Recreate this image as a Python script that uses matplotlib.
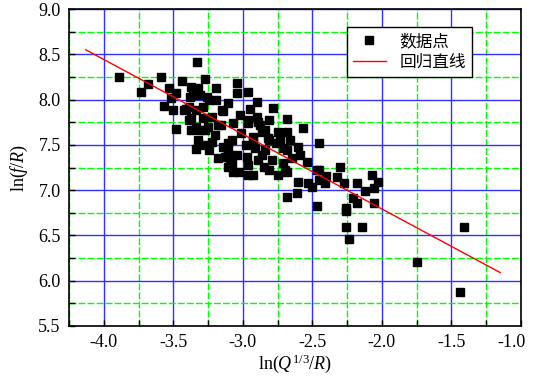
import matplotlib
matplotlib.use('Agg')
import matplotlib.pyplot as plt
import matplotlib.transforms as mtrans
from matplotlib.ticker import MultipleLocator
from matplotlib.lines import Line2D

plt.rcParams['font.family'] = ['Liberation Serif', 'Noto Sans CJK SC']
plt.rcParams['mathtext.fontset'] = 'custom'
plt.rcParams['mathtext.rm'] = 'Liberation Serif'
plt.rcParams['mathtext.it'] = 'Liberation Serif:italic'
plt.rcParams['axes.unicode_minus'] = False

# data points
x_pts = [-3.89, -3.73, -3.68, -3.59, -3.53, -3.44, -3.48, -3.52, -3.57, -3.50,
         -3.48, -3.41, -3.39, -3.33, -3.27, -3.37, -3.32, -3.19, -3.04, -3.04,
         -2.96, -2.90, -2.78, -2.68, -2.57, -2.68, -2.45, -3.38, -3.31, -3.26,
         -3.19, -3.42, -3.34, -3.29, -3.15, -3.02, -2.90, -2.81, -3.07, -2.96,
         -2.88, -3.37, -3.31, -3.25, -3.16, -3.20, -3.08, -3.01, -2.93, -2.86,
         -2.82, -2.75, -2.73, -2.68, -2.60, -3.32, -3.22, -3.34, -3.11, -3.13,
         -3.08, -3.04, -2.97, -2.96, -3.03, -2.93, -2.86, -2.85, -2.79, -2.81,
         -2.75, -2.68, -2.71, -2.60, -2.53, -2.54, -2.47, -2.30, -2.40, -2.32,
         -2.27, -2.68, -2.61, -2.47, -2.26, -2.21, -2.18, -2.41, -2.18, -2.07,
         -2.03, -2.12, -2.06, -2.06, -2.26, -2.26, -2.14, -2.24, -1.41, -1.75,
         -1.44, -2.50, -2.45, -2.96, -3.11, -3.09, -3.14, -3.36, -3.39, -3.24,
         -3.37, -3.29, -3.22, -3.34, -3.27, -3.18, -2.96, -2.89, -2.84, -2.81,
         -2.93, -2.76, -2.71, -2.65, -2.70, -2.45, -3.14, -3.07, -3.11, -3.11,
         -3.24, -3.18, -3.27, -2.91, -2.89, -2.98, -2.84, -2.66, -2.59, -2.95,
         -3.11]
y_pts = [8.25, 8.08, 8.17, 8.25, 8.13, 8.21, 8.07, 8.02, 7.93, 7.89,
         7.68, 7.90, 7.77, 8.42, 8.23, 8.14, 8.13, 8.13, 8.18, 8.07,
         8.08, 7.97, 7.91, 7.79, 7.69, 7.64, 7.52, 8.03, 8.05, 8.03,
         8.00, 7.89, 7.89, 7.92, 7.89, 7.83, 7.81, 7.77, 7.74, 7.74,
         7.72, 7.66, 7.66, 7.70, 7.72, 7.61, 7.55, 7.63, 7.59, 7.64,
         7.58, 7.64, 7.55, 7.44, 7.48, 7.55, 7.53, 7.45, 7.44, 7.37,
         7.30, 7.39, 7.37, 7.28, 7.20, 7.17, 7.39, 7.26, 7.33, 7.22,
         7.17, 7.20, 7.30, 7.09, 7.08, 7.31, 7.22, 7.26, 7.16, 7.15,
         7.08, 6.92, 6.97, 6.83, 6.80, 6.91, 6.86, 7.08, 7.08, 7.17,
         7.09, 6.99, 7.02, 6.86, 6.77, 6.59, 6.59, 6.46, 6.59, 6.21,
         5.87, 7.04, 7.11, 7.17, 7.40, 7.31, 7.48, 8.05, 7.92, 8.00,
         7.80, 7.80, 7.81, 7.70, 7.66, 7.72, 7.77, 7.75, 7.66, 7.55,
         7.55, 7.52, 7.47, 7.36, 7.22, 7.22, 7.87, 7.20, 7.26, 7.52,
         7.44, 7.36, 7.50, 7.47, 7.33, 7.50, 7.44, 7.55, 7.39, 7.90,
         7.96]

# regression line end points
fit_x = [-4.13, -1.15]
fit_y = [8.55, 6.09]

x_ticks = [-4.0, -3.5, -3.0, -2.5, -2.0, -1.5, -1.0]
x_labels = ['-4.0', '-3.5', '-3.0', '-2.5', '-2.0', '-1.5', '-1.0']
y_ticks = [5.5, 6.0, 6.5, 7.0, 7.5, 8.0, 8.5, 9.0]
y_labels = ['5.5', '6.0', '6.5', '7.0', '7.5', '8.0', '8.5', '9.0']

fig = plt.figure(figsize=(5.33, 3.82), dpi=100)
ax = fig.add_axes([0.1295, 0.1466, 0.848, 0.8298])

ax.set_xlim(-4.25, -1.0)
ax.set_ylim(5.5, 9.0)
ax.set_xticks(x_ticks, x_labels)
ax.set_yticks(y_ticks, y_labels)
ax.xaxis.set_minor_locator(MultipleLocator(0.25))
ax.yaxis.set_minor_locator(MultipleLocator(0.25))

ax.grid(which='major', color='#3030ff', linestyle='-', linewidth=1.0)
ax.grid(which='minor', color='#00ff00', linestyle=(0, (5, 1.5)), linewidth=1.0)
ax.set_axisbelow(True)

ax.tick_params(which='both', direction='in', top=False, right=False,
               labelsize=13, width=1.0, length=4)
ax.tick_params(axis='x', pad=6)
ax.tick_params(axis='y', pad=6)
for s in ax.spines.values():
    s.set_linewidth(1.2)

ax.plot(x_pts, y_pts, 's', color='black', markersize=6.3, linestyle='none')
ax.plot(fit_x, fit_y, color='red', linewidth=1.0)

ax.set_xlabel(r'ln($Q^{1/3}$/$R$)', fontsize=13, labelpad=1)
ax.set_ylabel(r'ln($f$/$R$)', fontsize=13, labelpad=6)

handles = [Line2D([], [], marker='s', color='black', linestyle='none', markersize=6.3),
           Line2D([], [], color='red', linewidth=1.0)]
leg = ax.legend(handles, ['数据点', '回归直线'], loc='upper left',
                bbox_to_anchor=(0.615, 0.943), fancybox=False, framealpha=1,
                edgecolor='black', borderaxespad=0, handlelength=2.0,
                prop={'family': ['Noto Sans CJK SC'], 'size': 12},
                borderpad=0.35, labelspacing=0.25, handletextpad=0.8)
leg.get_frame().set_linewidth(1.0)

# keep the last x tick label inside the canvas
last = ax.xaxis.get_major_ticks()[-1].label1
last.set_transform(last.get_transform() +
                   mtrans.ScaledTranslation(-7 / 72, 0, fig.dpi_scale_trans))

fig.savefig('out.png', dpi=100)
